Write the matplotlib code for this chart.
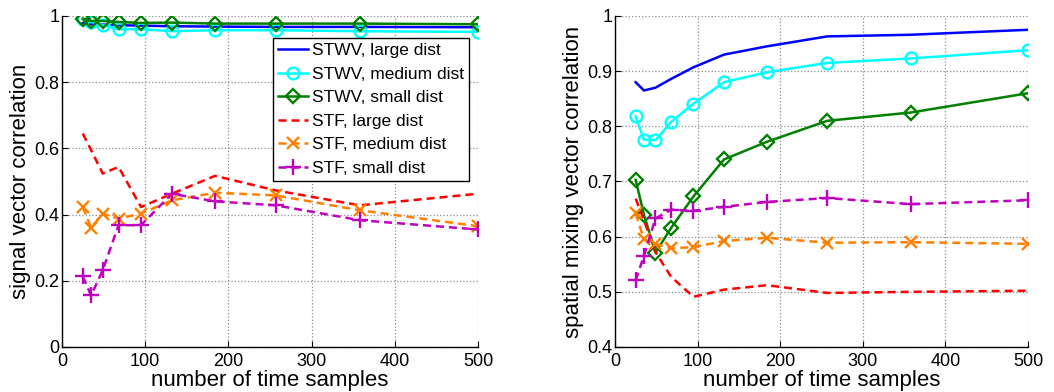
import matplotlib
matplotlib.use("Agg")
import matplotlib.pyplot as plt
from matplotlib.ticker import FuncFormatter

plt.rcParams['font.family'] = ['Liberation Sans', 'DejaVu Sans']

# time-sample counts (x axis)
n_samples = [25, 35, 49, 68, 95, 132, 184, 257, 358, 500]

labels = ["STWV, large dist", "STWV, medium dist", "STWV, small dist",
          "STF, large dist", "STF, medium dist", "STF, small dist"]

# left panel: signal vector correlation
sig_stwv_large = [0.978, 0.975, 0.974, 0.972, 0.971, 0.969, 0.968, 0.967, 0.967, 0.966]
sig_stwv_medium = [0.99, 0.982, 0.972, 0.960, 0.960, 0.954, 0.957, 0.957, 0.954, 0.952]
sig_stwv_small = [0.992, 0.985, 0.985, 0.982, 0.979, 0.980, 0.977, 0.977, 0.977, 0.975]
sig_stf_large = [0.645, 0.595, 0.524, 0.544, 0.423, 0.463, 0.517, 0.473, 0.428, 0.463]
sig_stf_medium = [0.423, 0.360, 0.403, 0.388, 0.403, 0.443, 0.466, 0.458, 0.413, 0.365]
sig_stf_small = [0.213, 0.156, 0.232, 0.368, 0.368, 0.463, 0.440, 0.428, 0.383, 0.355]

# right panel: spatial mixing vector correlation
mix_stwv_large = [0.880, 0.865, 0.870, 0.886, 0.907, 0.930, 0.945, 0.963, 0.966, 0.975]
mix_stwv_medium = [0.818, 0.776, 0.775, 0.808, 0.841, 0.880, 0.898, 0.915, 0.923, 0.938]
mix_stwv_small = [0.703, 0.640, 0.571, 0.616, 0.673, 0.740, 0.772, 0.810, 0.825, 0.860]
mix_stf_large = [0.669, 0.630, 0.572, 0.527, 0.491, 0.504, 0.512, 0.498, 0.500, 0.502]
mix_stf_medium = [0.642, 0.595, 0.587, 0.579, 0.581, 0.592, 0.598, 0.589, 0.590, 0.587]
mix_stf_small = [0.521, 0.565, 0.633, 0.649, 0.647, 0.654, 0.663, 0.670, 0.659, 0.666]

styles = [
    dict(color='#0000FF', ls='-', marker=None),
    dict(color='#00FFFF', ls='-', marker='o', mfc='none', ms=8.5),
    dict(color='#008000', ls='-', marker='D', mfc='none', ms=7.5),
    dict(color='#FF0000', ls=(0, (3.2, 2.0)), marker=None),
    dict(color='#FF8000', ls=(0, (3.2, 2.0)), marker='x', ms=8),
    dict(color='#BF00BF', ls=(0, (3.2, 2.0)), marker='+', ms=11),
]

fig = plt.figure(figsize=(10.54, 3.92), dpi=100)
ax1 = fig.add_axes([0.0588, 0.1148, 0.3947, 0.8444])
ax2 = fig.add_axes([0.5835, 0.1148, 0.3918, 0.8444])

left_series = [sig_stwv_large, sig_stwv_medium, sig_stwv_small,
               sig_stf_large, sig_stf_medium, sig_stf_small]
right_series = [mix_stwv_large, mix_stwv_medium, mix_stwv_small,
                mix_stf_large, mix_stf_medium, mix_stf_small]

for ax, series in ((ax1, left_series), (ax2, right_series)):
    for y, st, lab in zip(series, styles, labels):
        ax.plot(n_samples, y, color=st['color'], linestyle=st['ls'],
                marker=st['marker'], mfc=st.get('mfc', st['color']),
                mec=st['color'], ms=st.get('ms', 6), mew=1.7, lw=1.8,
                label=lab)
    ax.set_xlim(0, 500)
    ax.set_xticks([0, 100, 200, 300, 400, 500])
    ax.grid(True, linestyle=':', color='0.55', linewidth=0.9)
    ax.spines['top'].set_visible(False)
    ax.spines['right'].set_visible(False)
    ax.spines['left'].set_linewidth(1.0)
    ax.spines['bottom'].set_linewidth(1.0)
    ax.tick_params(direction='in', labelsize=13, length=4)
    ax.tick_params(axis='y', pad=2)
    ax.tick_params(axis='x', pad=4)
    ax.yaxis.set_major_formatter(FuncFormatter(lambda v, p: f"{v:g}"))
    ax.set_xlabel("number of time samples", fontsize=16, labelpad=0.5)

ax1.set_ylim(0, 1)
ax1.set_yticks([0, 0.2, 0.4, 0.6, 0.8, 1.0])
ax1.set_ylabel("signal vector correlation", fontsize=16, labelpad=2)

ax2.set_ylim(0.4, 1)
ax2.set_yticks([0.4, 0.5, 0.6, 0.7, 0.8, 0.9, 1.0])
ax2.set_ylabel("spatial mixing vector correlation", fontsize=16, labelpad=2)

leg = ax1.legend(loc='upper right', bbox_to_anchor=(0.978, 0.9335), fontsize=12.5,
                 frameon=True, fancybox=False, framealpha=1, edgecolor='black',
                 handlelength=1.75, handletextpad=0.2, borderpad=0.3,
                 labelspacing=0.48, borderaxespad=0)
leg.get_frame().set_linewidth(1.0)

fig.savefig("out.png", dpi=100)
